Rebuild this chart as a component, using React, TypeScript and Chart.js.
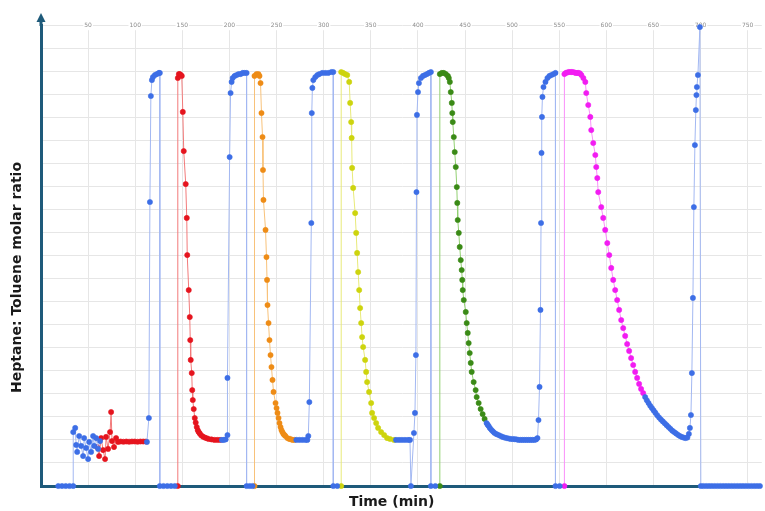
import { useEffect, useRef } from "react";
import { Chart, registerables } from "chart.js";

Chart.register(...registerables);

const X_MAX = 765;
const Y_MAX = 20;
const X_STEP = 50;

const AXIS_COLOR = "#1e5a7a";
const GRID_COLOR = "#e6e6e6";

const xTitle = "Time (min)";
const yTitle = "Heptane: Toluene molar ratio";

// ---- blue (baseline / wash) segments ----
const blue0X = [18.3, 22.3, 26.3, 30.3, 34.2, 34.2, 36.3, 37.3, 38.4, 40.5, 42.6, 44.7, 45.8, 47.9, 50.0, 51.1, 53.2, 55.3, 56.4, 58.5, 60.6, 62.7];
const blue0Y = [0, 0, 0, 0, 0, 2.34, 2.52, 1.78, 1.48, 2.17, 1.74, 1.30, 2.08, 1.65, 1.17, 1.91, 1.48, 2.17, 1.74, 2.08, 1.61, 1.95];

const blue1X = [112.4, 114.5, 115.6, 116.6, 117.7, 118.8, 120.9, 123.0, 125.1, 126.1, 126.1, 130, 134, 138, 142];
const blue1Y = [1.91, 2.95, 12.32, 16.92, 17.61, 17.74, 17.83, 17.87, 17.92, 17.92, 0, 0, 0, 0, 0];

const blue2X = [192, 194, 196, 197.9, 197.9, 200.2, 201.2, 202.3, 203.4, 205.5, 207.6, 209.7, 211.9, 214.0, 216.0, 218.2, 218.2, 221.5, 224.5];
const blue2Y = [2.0, 2.0, 2.02, 2.21, 4.69, 14.27, 17.05, 17.53, 17.70, 17.79, 17.83, 17.87, 17.87, 17.92, 17.92, 17.92, 0, 0, 0];

const blue3X = [271.0, 274.2, 277.4, 280.6, 282.7, 283.7, 284.8, 286.9, 287.4, 288.0, 289.0, 291.1, 293.3, 295.4, 298.5, 301.7, 304.9, 308.1, 310.2, 310.2, 314.4];
const blue3Y = [2.0, 2.0, 2.0, 2.0, 2.0, 2.17, 3.64, 11.41, 16.18, 17.27, 17.61, 17.74, 17.83, 17.87, 17.92, 17.92, 17.92, 17.96, 17.96, 0, 0];

const blue4X = [376.8, 380.0, 383.1, 386.3, 389.5, 391.6, 392.6, 395.8, 396.9, 397.9, 398.5, 399.0, 400.1, 401.1, 403.2, 405.4, 407.5, 409.6, 411.7, 413.8, 413.8, 418.5];
const blue4Y = [2.0, 2.0, 2.0, 2.0, 2.0, 2.0, 0, 2.30, 3.17, 5.68, 12.75, 16.10, 17.09, 17.48, 17.70, 17.79, 17.83, 17.87, 17.92, 17.96, 0, 0];

const blue5X = [472.9, 474.0, 475.1, 476.5, 478.2, 479.8, 481.4, 483.5, 485.7, 487.8, 489.9, 492.0, 494.2, 496.3, 498.4, 500.5, 502.6, 504.7, 506.8, 509.0, 511.1, 513.2, 515.3, 517.4, 519.5, 521.6, 523.8, 525.5, 526.9, 528.0, 529.1, 530.1, 530.7, 531.2, 531.7, 532.2, 533.3, 535.4, 537.5, 539.6, 541.7, 543.9, 546.0, 546.0, 550.5];
const blue5Y = [2.73, 2.66, 2.60, 2.51, 2.43, 2.36, 2.30, 2.25, 2.21, 2.17, 2.13, 2.10, 2.08, 2.06, 2.04, 2.04, 2.03, 2.02, 2.0, 2.0, 2.0, 2.0, 2.0, 2.0, 2.0, 2.0, 2.0, 2.02, 2.08, 2.86, 4.30, 7.64, 11.41, 14.45, 16.01, 16.88, 17.31, 17.53, 17.70, 17.79, 17.83, 17.87, 17.92, 0, 0];

const blue6X = [641.2, 643.0, 644.8, 646.6, 648.4, 650.2, 652.0, 654.0, 656.0, 658.0, 660.0, 662.0, 664.0, 666.0, 668.0, 670.0, 672.0, 674.0, 676.0, 678.0, 680.0, 682.0, 684.0, 686.0, 687.6, 688.7, 689.8, 690.8, 691.9, 692.9, 694.0, 695.0, 695.6, 696.1, 697.2, 699.3, 700.3, 703, 706, 709, 712, 715, 718, 721, 724, 727, 730, 733, 736, 739, 742, 745, 748, 751, 754, 757, 760, 763];
const blue6Y = [3.86, 3.72, 3.60, 3.48, 3.38, 3.28, 3.18, 3.07, 2.97, 2.88, 2.80, 2.72, 2.64, 2.56, 2.48, 2.40, 2.34, 2.28, 2.22, 2.17, 2.13, 2.10, 2.08, 2.10, 2.26, 2.52, 3.08, 4.90, 8.16, 12.10, 14.79, 16.31, 16.96, 17.31, 17.83, 19.91, 0, 0, 0, 0, 0, 0, 0, 0, 0, 0, 0, 0, 0, 0, 0, 0, 0, 0, 0, 0, 0, 0];

// ---- coloured injection segments ----
const red0X = [59.6, 61.7, 63.8, 65.9, 68.0, 69.1, 71.2, 73.3, 74.4, 75.4, 77.5, 79.7, 81.8, 84.5, 87.5, 90.5, 93.5, 96.5, 99.5, 102.5, 105.5, 108.5, 111.5];
const red0Y = [1.69, 1.30, 2.08, 1.56, 1.17, 2.13, 1.61, 2.34, 3.21, 1.95, 1.69, 2.08, 1.91, 1.93, 1.92, 1.93, 1.92, 1.93, 1.93, 1.92, 1.93, 1.93, 1.93];

const red1X = [145.2, 145.2, 146.3, 147.3, 148.4, 149.4, 150.5, 151.5, 153.6, 154.7, 155.2, 156.8, 157.9, 158.4, 158.9, 160.0, 160.5, 161.1, 162.1, 163.2, 164.2, 165.3, 166.4, 167.4, 168.5, 170, 172, 174, 176, 178, 181, 184, 187, 190];
const red1Y = [0, 17.70, 17.87, 17.87, 17.83, 17.79, 16.23, 14.53, 13.10, 11.63, 10.02, 8.50, 7.33, 6.33, 5.47, 4.90, 4.16, 3.73, 3.34, 2.95, 2.75, 2.56, 2.42, 2.34, 2.28, 2.2, 2.14, 2.1, 2.07, 2.04, 2.02, 2.0, 2.0, 2.0];

const orangeX = [226.6, 226.6, 228.7, 230.8, 231.9, 233.0, 234.0, 235.1, 235.6, 236.1, 238.3, 239.3, 239.9, 240.4, 241.5, 242.5, 243.6, 244.6, 245.7, 246.8, 248.9, 250.0, 251.0, 252.1, 253.1, 254.2, 255.2, 256.2, 257.3, 258.4, 259.4, 261.5, 263.6, 264.7, 266.8, 268.9];
const orangeY = [0, 17.79, 17.87, 17.87, 17.79, 17.48, 16.18, 15.14, 13.71, 12.41, 11.11, 9.93, 8.94, 7.85, 7.07, 6.33, 5.68, 5.16, 4.60, 4.08, 3.60, 3.38, 3.17, 2.95, 2.73, 2.56, 2.43, 2.34, 2.26, 2.21, 2.17, 2.08, 2.04, 2.04, 2.0, 2.0];

const yellowX = [318.6, 318.6, 320.7, 322.8, 325.0, 327.1, 328.1, 329.2, 329.7, 330.2, 331.3, 333.4, 334.5, 335.5, 336.6, 337.7, 338.7, 339.8, 340.8, 341.9, 344.0, 345.1, 346.1, 348.2, 350.4, 351.4, 353.5, 355.7, 357.8, 361.0, 364.2, 367.3, 370.5, 374.7];
const yellowY = [0, 17.96, 17.92, 17.87, 17.83, 17.53, 16.62, 15.79, 15.10, 13.80, 12.93, 11.84, 10.98, 10.11, 9.28, 8.50, 7.72, 7.07, 6.46, 6.03, 5.47, 4.95, 4.51, 4.08, 3.60, 3.17, 2.95, 2.73, 2.52, 2.34, 2.21, 2.08, 2.04, 2.0];

const greenX = [423.3, 423.3, 425.4, 427.5, 429.7, 431.8, 432.8, 433.9, 434.9, 436.0, 436.5, 437.0, 438.1, 439.1, 440.2, 441.3, 441.8, 442.3, 443.4, 444.4, 445.5, 446.5, 447.1, 447.6, 448.7, 450.8, 451.8, 452.9, 453.9, 455.0, 456.1, 457.1, 459.2, 461.3, 462.4, 464.5, 466.6, 468.7, 470.8];
const greenY = [0, 17.87, 17.92, 17.92, 17.87, 17.79, 17.70, 17.53, 17.09, 16.62, 16.18, 15.79, 15.14, 14.49, 13.84, 12.97, 12.28, 11.54, 10.98, 10.37, 9.80, 9.37, 8.94, 8.50, 8.07, 7.55, 7.07, 6.64, 6.20, 5.77, 5.34, 4.95, 4.51, 4.16, 3.86, 3.60, 3.34, 3.12, 2.91];

const magentaX = [555.5, 555.5, 557.0, 558.5, 560.0, 561.5, 563.0, 564.5, 566.0, 567.5, 569.0, 570.5, 572.0, 573.5, 575.6, 577.7, 578.7, 580.8, 583.0, 584.0, 586.1, 588.3, 589.3, 590.4, 591.4, 594.6, 596.7, 598.8, 601.0, 603.1, 605.2, 607.3, 609.4, 611.5, 613.6, 615.8, 617.9, 620.0, 622.1, 624.2, 626.3, 628.5, 630.6, 632.7, 634.8, 636.9, 639.1];
const magentaY = [0, 17.87, 17.92, 17.94, 17.96, 17.96, 17.96, 17.96, 17.94, 17.92, 17.92, 17.92, 17.90, 17.83, 17.70, 17.53, 17.05, 16.53, 16.01, 15.44, 14.88, 14.36, 13.84, 13.36, 12.75, 12.10, 11.63, 11.11, 10.54, 10.02, 9.46, 8.94, 8.50, 8.07, 7.64, 7.20, 6.85, 6.51, 6.16, 5.86, 5.55, 5.25, 4.95, 4.69, 4.43, 4.21, 4.03];

type Pt = { x: number; y: number | null };

function seg(xs: number[], ys: number[]): Pt[] {
  return xs.map((x, i) => ({ x, y: ys[i] }));
}

function joinSegs(...segs: Pt[][]): Pt[] {
  const out: Pt[] = [];
  segs.forEach((s, i) => {
    if (i > 0) out.push({ x: s[0].x, y: null });
    out.push(...s);
  });
  return out;
}

function series(label: string, data: Pt[], pt: string, line: string) {
  return {
    label,
    data,
    borderColor: line,
    borderWidth: 1,
    pointBackgroundColor: pt,
    pointBorderColor: pt,
    pointBorderWidth: 0.6,
    pointRadius: 2.6,
    pointHoverRadius: 2.6,
    tension: 0,
    spanGaps: false,
    clip: 5,
    xAxisID: "x",
    yAxisID: "y",
  };
}

const arrowPlugin = {
  id: "yArrow",
  afterDraw(chart: any) {
    const { ctx, chartArea } = chart;
    const x = chartArea.left;
    const t = chartArea.top;
    ctx.save();
    ctx.strokeStyle = AXIS_COLOR;
    ctx.fillStyle = AXIS_COLOR;
    ctx.lineWidth = 3;
    ctx.beginPath();
    ctx.moveTo(x, t + 1);
    ctx.lineTo(x, t - 5);
    ctx.stroke();
    ctx.beginPath();
    ctx.moveTo(x, t - 12);
    ctx.lineTo(x - 4.5, t - 3);
    ctx.lineTo(x + 4.5, t - 3);
    ctx.closePath();
    ctx.fill();
    ctx.restore();
  },
};

const TITLE_FONT = { family: "DejaVu Sans", size: 14, weight: "bold" };

export default function App() {
  const ref = useRef<HTMLCanvasElement | null>(null);

  useEffect(() => {
    document.body.style.margin = "0";
    if (!ref.current) return;
    const chart = new Chart(ref.current, {
      type: "line",
      data: {
        datasets: [
          series("Wash", joinSegs(seg(blue0X, blue0Y), seg(blue1X, blue1Y), seg(blue2X, blue2Y), seg(blue3X, blue3Y), seg(blue4X, blue4Y), seg(blue5X, blue5Y), seg(blue6X, blue6Y)), "#3d6ee6", "#a3b8f2"),
          series("Run 1", joinSegs(seg(red0X, red0Y), seg(red1X, red1Y)), "#e5141e", "#f27a7a"),
          series("Run 2", seg(orangeX, orangeY), "#ee8c16", "#f8c27a"),
          series("Run 3", seg(yellowX, yellowY), "#cdd40e", "#e8ea78"),
          series("Run 4", seg(greenX, greenY), "#3a8a16", "#92d072"),
          series("Run 5", seg(magentaX, magentaY), "#f21cf2", "#fa90fa"),
        ] as any,
      },
      options: {
        animation: false,
        responsive: false,
        devicePixelRatio: 1,
        layout: { padding: { top: 25, left: 0, right: 0, bottom: 0 } },
        plugins: {
          legend: { display: false },
          tooltip: { enabled: false },
        },
        scales: {
          x: {
            type: "linear",
            position: "bottom",
            min: 0,
            max: X_MAX,
            grid: { color: GRID_COLOR, drawTicks: false },
            border: { display: true, color: AXIS_COLOR, width: 3 },
            ticks: { display: false, stepSize: X_STEP, includeBounds: false },
            title: {
              display: true,
              text: xTitle + "    ",
              color: "#1a1a1a",
              font: TITLE_FONT,
              padding: { top: 0, bottom: 0 },
            },
            afterFit: (s: any) => {
              s.height = 25;
            },
          },
          x2: {
            type: "linear",
            position: "top",
            min: 0,
            max: X_MAX,
            grid: { display: false, drawTicks: false },
            border: { display: false },
            ticks: {
              stepSize: X_STEP,
              includeBounds: false,
              autoSkip: false,
              maxRotation: 0,
              mirror: true,
              padding: -3,
              color: "#8c8c8c",
              font: { family: "DejaVu Sans", size: 6 },
              showLabelBackdrop: true,
              backdropColor: "#ffffff",
              backdropPadding: 1,
              callback: (v: any) => (v === 0 ? "" : String(v)),
            },
            afterFit: (s: any) => {
              s.height = 0;
            },
          },
          y: {
            type: "linear",
            position: "left",
            min: 0,
            max: Y_MAX,
            grid: { color: GRID_COLOR, drawTicks: false },
            border: { display: true, color: AXIS_COLOR, width: 3 },
            ticks: { display: false, stepSize: 1 },
            title: {
              display: true,
              text: yTitle + "         ",
              color: "#1a1a1a",
              font: TITLE_FONT,
              padding: { top: 9, bottom: 0 },
            },
            afterFit: (s: any) => {
              s.width = 41;
            },
          },
        },
      } as any,
      plugins: [arrowPlugin],
    });
    return () => chart.destroy();
  }, []);

  return (
    <div style={{ width: 765, height: 511 }}>
      <canvas ref={ref} width={765} height={511} />
    </div>
  );
}
